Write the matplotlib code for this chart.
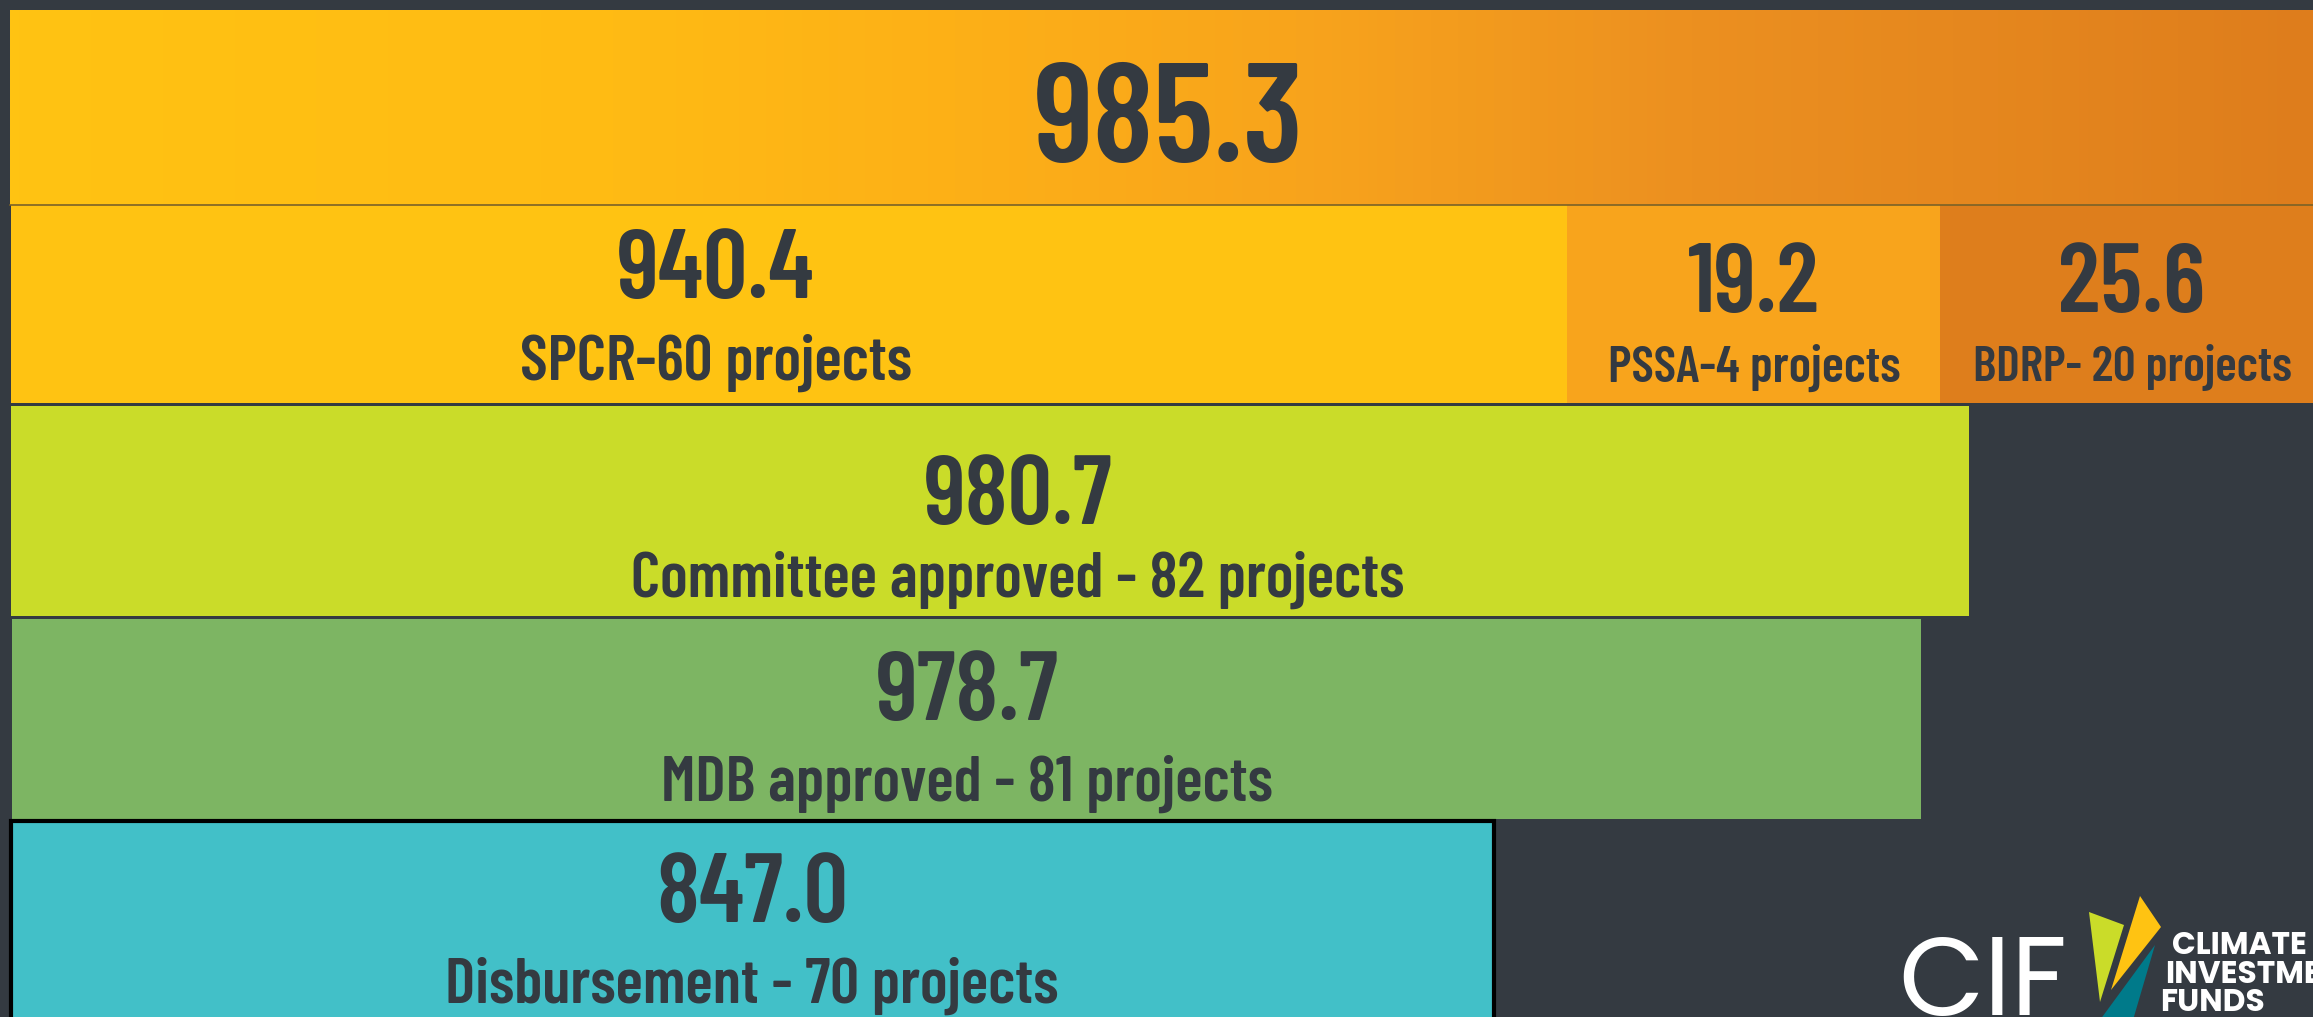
import numpy as np
import matplotlib
matplotlib.use("Agg")
import matplotlib.pyplot as plt
from matplotlib.colors import LinearSegmentedColormap
from matplotlib.patches import Polygon

# values (USD million)
total_value = 985.3
program_labels = ["SPCR-60 projects", "PSSA-4 projects", "BDRP- 20 projects"]
program_values = [940.4, 19.2, 25.6]
stage_labels = ["Committee approved - 82 projects",
                "MDB approved - 81 projects",
                "Disbursement - 70 projects"]
stage_values = [980.7, 978.7, 847.0]

# layout, in pixels (the graphic is not drawn to scale)
W, H = 2313, 1017
BG = "#343a41"
DARK = "#343a41"
top_row = (10, 205)
program_row = (205, 403)
program_edges = [11, 1567, 1940, 2330]
program_colors = ["#ffc312", "#f8a41c", "#de7e1c"]
stage_rows = [(406, 616), (619, 819), (821, 1040)]
stage_left = [11, 12, 11]
stage_right = [1969, 1921, 1494]
stage_colors = ["#cadc29", "#7db563", "#42c0c8"]

# text placement
total_xy = (1169, 162)
program_num_y = [298, 312, 312]
program_lab_y = [380, 382, 381]
program_x = [716, 1754, 2132]
program_lab_fs = [46, 37, 36]
stage_x = [1018, 967, 752]
stage_num_y = [524, 720, 922]
stage_lab_y = [597, 801, 1003]

FONT = dict(family="Barlow Condensed", fontweight="semibold", color=DARK, zorder=5)
LOGO_FONT = ["Poppins", "Lato", "DejaVu Sans"]

fig = plt.figure(figsize=(W / 100, H / 100), dpi=100, facecolor=BG)
ax = fig.add_axes([0, 0, 1, 1])
ax.set_facecolor(BG)
ax.set_xlim(0, W)
ax.set_ylim(H, 0)
ax.axis("off")

# top bar with yellow -> orange gradient
grad = LinearSegmentedColormap.from_list("cif", [
    (0.0, "#ffc312"), (0.26, "#ffbb14"), (0.41, "#fdb017"),
    (0.56, "#f8a41c"), (0.73, "#ec9020"), (1.0, "#de7d1c")])
ax.imshow(np.linspace(0, 1, 512)[None, :], cmap=grad, aspect="auto",
          extent=(10, W, top_row[1], top_row[0]), zorder=1)
ax.plot([10, W], [top_row[1], top_row[1]], color="#7a6228", lw=1.2, zorder=3)
ax.text(*total_xy, f"{total_value:.1f}", ha="center", va="baseline",
        fontsize=101, **FONT)

# programme split
for i in range(3):
    left, right = program_edges[i], program_edges[i + 1]
    ax.barh((program_row[0] + program_row[1]) / 2, right - left, left=left,
            height=program_row[1] - program_row[0], color=program_colors[i],
            lw=0, zorder=2)
    ax.text(program_x[i], program_num_y[i], f"{program_values[i]:.1f}",
            ha="center", va="baseline", fontsize=71, **FONT)
    ax.text(program_x[i], program_lab_y[i], program_labels[i],
            ha="center", va="baseline", fontsize=program_lab_fs[i], **FONT)

# pipeline stages
for i in range(3):
    top, bot = stage_rows[i]
    last = i == len(stage_values) - 1
    ax.barh((top + bot) / 2, stage_right[i] - stage_left[i], left=stage_left[i],
            height=bot - top, color=stage_colors[i],
            edgecolor="black" if last else "none", lw=3 if last else 0,
            zorder=2)
    ax.text(stage_x[i], stage_num_y[i], f"{stage_values[i]:.1f}",
            ha="center", va="baseline", fontsize=71, **FONT)
    ax.text(stage_x[i], stage_lab_y[i], stage_labels[i],
            ha="center", va="baseline", fontsize=46, **FONT)

# CIF logo
ax.text(1898, 1015, "CIF", ha="left", va="baseline", fontsize=80,
        fontweight="normal", color="white", family=LOGO_FONT, zorder=5)
ax.add_patch(Polygon([(2089, 912), (2124, 925), (2100, 1002)],
                     color="#cadc29", lw=0, zorder=5))
ax.add_patch(Polygon([(2140, 896), (2161, 927), (2111, 990)],
                     color="#ffc312", lw=0, zorder=5))
ax.add_patch(Polygon([(2155, 945), (2133, 1020), (2100, 1020)],
                     color="#007a8a", lw=0, zorder=5))
for s, x, y in [("CLIMATE", 2172, 954), ("INVESTMENT", 2165, 983),
                ("FUNDS", 2160, 1011)]:
    ax.text(x, y, s, ha="left", va="baseline", fontsize=22.5,
            fontweight="bold", color="white", family=LOGO_FONT, zorder=5)

fig.savefig("out.png", dpi=100, facecolor=BG)
